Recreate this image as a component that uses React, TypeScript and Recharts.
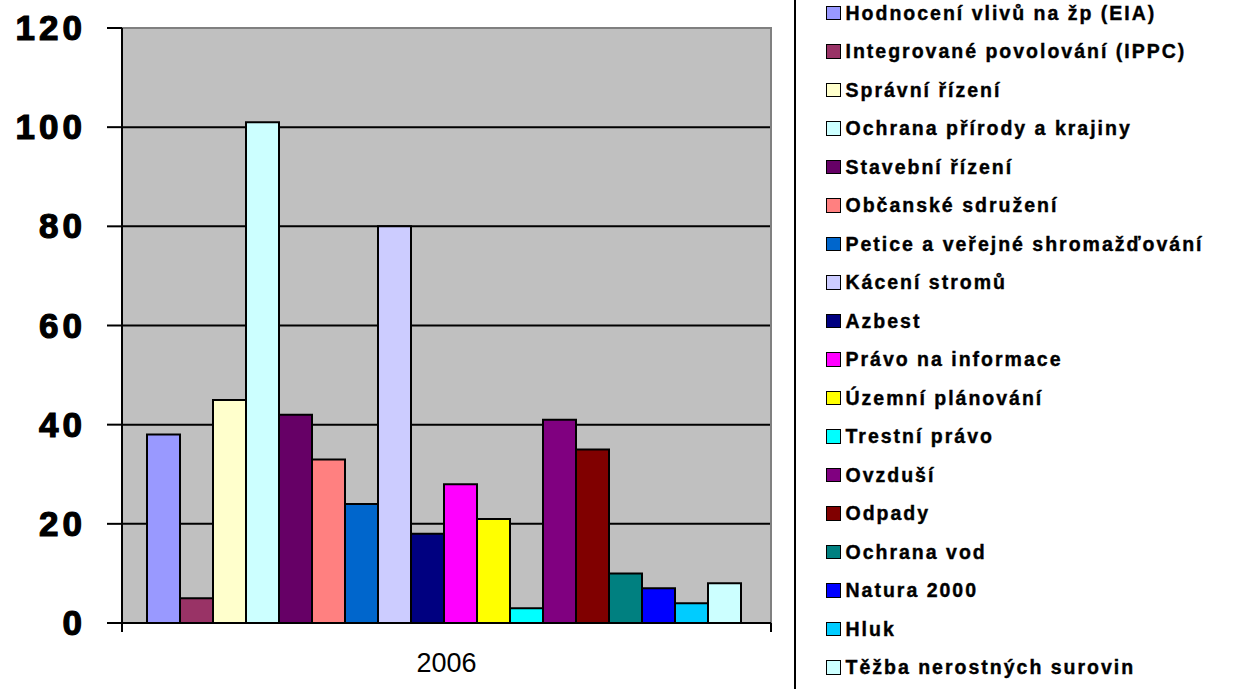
import { Bar, BarChart, CartesianGrid, ReferenceArea, XAxis, YAxis } from 'recharts'

const categories = ['2006']

const seriesNames = [
  'Hodnocení vlivů na žp (EIA)',
  'Integrované povolování (IPPC)',
  'Správní řízení',
  'Ochrana přírody a krajiny',
  'Stavební řízení',
  'Občanské sdružení',
  'Petice a veřejné shromažďování',
  'Kácení stromů',
  'Azbest',
  'Právo na informace',
  'Územní plánování',
  'Trestní právo',
  'Ovzduší',
  'Odpady',
  'Ochrana vod',
  'Natura 2000',
  'Hluk',
  'Těžba nerostných surovin',
]

// one value per series for the single year
const values2006 = [38, 5, 45, 101, 42, 33, 24, 80, 18, 28, 21, 3, 41, 35, 10, 7, 4, 8]

const colors = [
  '#9999FF', '#993366', '#FFFFCC', '#CCFFFF', '#660066', '#FF8080',
  '#0066CC', '#CCCCFF', '#000080', '#FF00FF', '#FFFF00', '#00FFFF',
  '#800080', '#800000', '#008080', '#0000FF', '#00CCFF', '#CCFFFF',
]

const yTicks = [0, 20, 40, 60, 80, 100, 120]

const seriesValues = [values2006]

const data = categories.map((name, ci) => {
  const row: Record<string, string | number> = { name }
  seriesNames.forEach((_, si) => {
    row['s' + si] = seriesValues[ci][si]
  })
  return row
})

const FONT = '"Liberation Sans", Arial, sans-serif'
const CHART_W = 800
const CHART_H = 689
const PLOT_LEFT = 122
const PLOT_RIGHT = 771
const BAND = (PLOT_RIGHT - PLOT_LEFT) / categories.length

function YearTick(props: any) {
  const { x, y, payload } = props
  const axisY = y - 8
  return (
    <g>
      <line x1={x - BAND / 2} x2={x - BAND / 2} y1={axisY} y2={axisY + 9} stroke="#000" strokeWidth={2} />
      <line x1={x + BAND / 2} x2={x + BAND / 2} y1={axisY} y2={axisY + 9} stroke="#000" strokeWidth={2} />
      <text x={x} y={axisY + 49} textAnchor="middle" fontSize={27} fontFamily={FONT} fill="#000">
        {payload.value}
      </text>
    </g>
  )
}

function ValueTick(props: any) {
  const { x, y, payload } = props
  return (
    <text
      x={x}
      y={y}
      dy={12}
      textAnchor="end"
      fontSize={35}
      fontWeight="bold"
      fontFamily={FONT}
      letterSpacing={4}
      fill="#000"
      stroke="#000"
      strokeWidth={1.2}
    >
      {payload.value}
    </text>
  )
}

export default function App() {
  return (
    <div style={{ position: 'absolute', left: 0, top: 0, width: 1241, height: 689, background: '#fff', fontFamily: FONT }}>
      <BarChart
        width={CHART_W}
        height={CHART_H}
        data={data}
        margin={{ top: 28, right: CHART_W - PLOT_RIGHT, bottom: 0, left: 0 }}
        barCategoryGap={25}
        barGap={0}
      >
        <CartesianGrid vertical={false} stroke="#000" strokeWidth={2} fill="#C0C0C0" fillOpacity={1} />
        <ReferenceArea y1={0} y2={120} fill="none" stroke="#808080" strokeWidth={2} />
        <XAxis
          dataKey="name"
          height={66}
          axisLine={{ stroke: '#000', strokeWidth: 2 }}
          tickLine={false}
          tickSize={0}
          tickMargin={8}
          tick={<YearTick />}
        />
        <YAxis
          width={PLOT_LEFT}
          domain={[0, 120]}
          ticks={yTicks}
          interval={0}
          axisLine={{ stroke: '#000', strokeWidth: 2 }}
          tickLine={{ stroke: '#000', strokeWidth: 2 }}
          tickSize={15}
          tickMargin={21}
          tick={<ValueTick />}
        />
        {seriesNames.map((n, i) => (
          <Bar
            key={n}
            dataKey={'s' + i}
            name={n}
            fill={colors[i]}
            stroke="#000"
            strokeWidth={2}
            isAnimationActive={false}
          />
        ))}
      </BarChart>
      <div
        style={{
          position: 'absolute',
          left: 794,
          top: 0,
          width: 447,
          height: 689,
          borderLeft: '2px solid #000',
          boxSizing: 'border-box',
        }}
      >
        <div style={{ position: 'absolute', left: 0, top: 13 - 19.25 }}>
          {seriesNames.map((n, i) => (
            <div key={n} style={{ height: 38.5, display: 'flex', alignItems: 'center', whiteSpace: 'nowrap' }}>
              <span
                style={{
                  display: 'inline-block',
                  width: 12.5,
                  height: 12.5,
                  marginLeft: 30,
                  marginRight: 5,
                  background: colors[i],
                  border: '1.5px solid #000',
                }}
              />
              <span
                style={{
                  fontSize: 19.5,
                  fontWeight: 'bold',
                  letterSpacing: 2,
                  color: '#000',
                  WebkitTextStroke: '0.4px #000',
                }}
              >
                {n}
              </span>
            </div>
          ))}
        </div>
      </div>
    </div>
  )
}
